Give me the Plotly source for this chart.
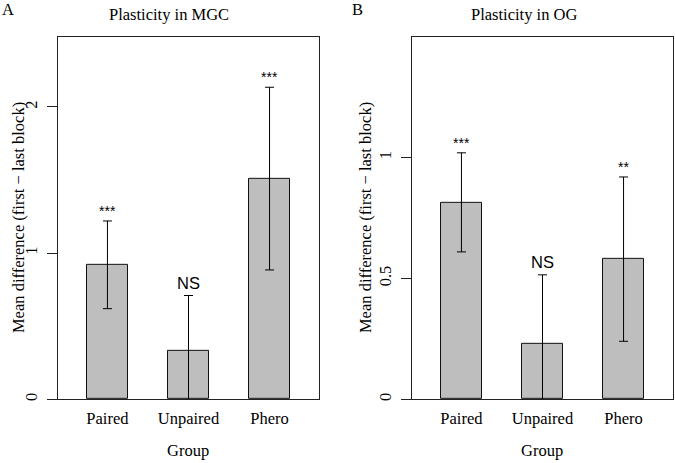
import plotly.graph_objects as go

groups = ["Paired", "Unpaired", "Phero"]
mgc_mean = [0.92, 0.33, 1.51]
mgc_err = [0.30, 0.38, 0.625]
mgc_sig = ["***", "NS", "***"]
og_mean = [0.815, 0.23, 0.58]
og_err = [0.205, 0.285, 0.34]
og_sig = ["***", "NS", "**"]

W, H = 675, 463
SERIF = "Liberation Serif"
SANS = "Liberation Sans"
FS = 16.5

def px(x):
    return x / W

def py(y):
    return 1 - y / H

fig = go.Figure()
for i, (m, e) in enumerate([(mgc_mean, mgc_err), (og_mean, og_err)]):
    fig.add_trace(go.Bar(
        x=list(range(len(groups))), y=m, width=0.5,
        marker=dict(color="#bebebe", line=dict(color="#111", width=1)),
        error_y=dict(type="data", array=e, visible=True, color="black",
                     thickness=1, width=4.5),
        xaxis="x" if i == 0 else "x2", yaxis="y" if i == 0 else "y2",
        showlegend=False, hoverinfo="skip",
    ))

axis_common = dict(showline=True, mirror=True, linecolor="#222", linewidth=1,
                   showgrid=False, zeroline=False,
                   tickfont=dict(family=SERIF, size=FS, color="black"))
ydom = [py(401), py(37)]
fig.update_layout(
    width=W, height=H, margin=dict(l=0, r=0, t=0, b=0),
    plot_bgcolor="white", paper_bgcolor="white", bargap=0,
    xaxis=dict(domain=[px(58), px(319)], range=[-0.61, 2.61],
               tickvals=[0, 1, 2], ticktext=groups, ticks="",
               ticklabelstandoff=4, **axis_common),
    yaxis=dict(domain=ydom, range=[0, 2.48], tickvals=[0, 1, 2],
               ticks="outside", ticklen=10, tickcolor="#222", tickangle=-90,
               ticklabelstandoff=3, **axis_common),
    xaxis2=dict(domain=[px(412), px(673)], range=[-0.61, 2.61], anchor="y2",
                tickvals=[0, 1, 2], ticktext=groups, ticks="",
                ticklabelstandoff=4, **axis_common),
    yaxis2=dict(domain=ydom, range=[0, 1.5], anchor="x2",
                tickvals=[0, 0.5, 1], ticktext=["0", "0.5", "1"],
                ticks="outside", ticklen=10, tickcolor="#222", tickangle=-90,
                ticklabelstandoff=3, **axis_common),
)

ann = []
def text(x, y, s, family=SERIF, size=FS, angle=0):
    ann.append(dict(x=px(x), y=py(y), xref="paper", yref="paper", text=s,
                    showarrow=False, textangle=angle, xanchor="center",
                    yanchor="middle", font=dict(family=family, size=size, color="black")))

text(8, 10, "A")
text(357, 10, "B")
text(169, 15, "Plasticity in MGC")
text(524, 15, "Plasticity in OG")
text(188, 452, "Group")
text(542, 452, "Group")
text(18, 219, "Mean difference (first \u2212 last block)", angle=-90)
text(365, 219, "Mean difference (first \u2212 last block)", angle=-90)

for xa, ya, m, e, s in [("x", "y", mgc_mean, mgc_err, mgc_sig), ("x2", "y2", og_mean, og_err, og_sig)]:
    for i in range(len(groups)):
        star = s[i].startswith("*")
        ann.append(dict(x=i, y=m[i] + e[i], xref=xa, yref=ya, text=s[i], showarrow=False,
                        xanchor="center", yanchor="middle", yshift=10 if star else 13,
                        font=dict(family=SANS, size=14 if star else FS, color="black")))
fig.update_layout(annotations=ann)
fig.write_html("out.html", config={"displayModeBar": False},
               post_script="document.body.style.margin='0';document.body.style.overflow='hidden';")
